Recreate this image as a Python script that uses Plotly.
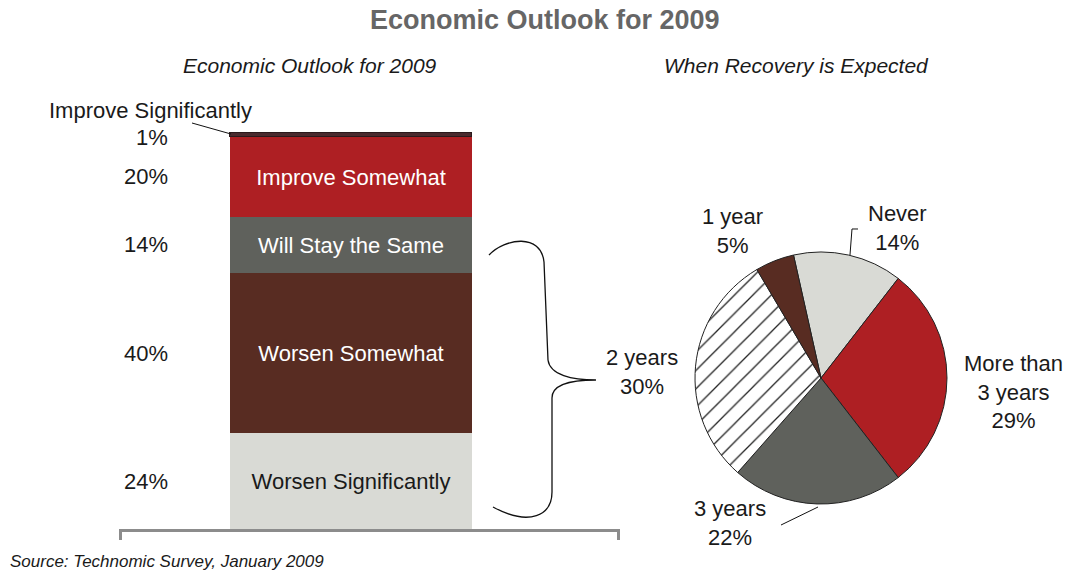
import plotly.graph_objects as go

W, H = 1076, 575

# ---------------- data ----------------
outlook_labels = ["Worsen Significantly", "Worsen Somewhat", "Will Stay the Same",
                  "Improve Somewhat", "Improve Significantly"]
outlook_values = [24, 40, 14, 20, 1]

recovery_labels = ["Never", "More than<br>3 years", "3 years", "2 years", "1 year"]
recovery_values = [14, 29, 22, 30, 5]

# ---------------- styles ----------------
FONT = "Liberation Sans, Arial, sans-serif"
TXT = "#1a1a1a"
LBL = 22
bar_colors = ["#d9dad5", "#582c22", "#5f615c", "#ae1f23", "#4a2a2e"]
bar_text_colors = [TXT, "white", "white", "white", "white"]
pie_colors = ["#d9dad5", "#ae1f23", "#5f615c", "white", "#582c22"]
pie_patterns = ["", "", "", "/", ""]


def px(x, y):
    return x / W, 1 - y / H


fig = go.Figure()

# stacked bar
for lab, val, col, tc in zip(outlook_labels, outlook_values, bar_colors, bar_text_colors):
    small = val < 5
    fig.add_trace(go.Bar(
        x=[0], y=[val], width=[1], name=lab,
        marker=dict(color=col, line=dict(color="#2a1a1c" if small else col, width=1 if small else 0)),
        text=["" if small else lab], textposition="inside", insidetextanchor="middle",
        textangle=0, constraintext="none",
        textfont=dict(color=tc, size=LBL, family=FONT),
        hoverinfo="skip", xaxis="x", yaxis="y",
    ))

# pie
cx, cy, r = 821, 378, 126
fig.add_trace(go.Pie(
    values=recovery_values, labels=recovery_labels, sort=False,
    direction="clockwise", rotation=-12.6,
    marker=dict(colors=pie_colors, line=dict(color="#222222", width=1),
                pattern=dict(shape=pie_patterns, fgcolor="#222222", size=13, solidity=0.1)),
    textinfo="none", hoverinfo="skip", showlegend=False,
    domain=dict(x=[(cx - r) / W, (cx + r) / W], y=[1 - (cy + r) / H, 1 - (cy - r) / H]),
))

annotations = []


def ann(x, y, text, size=LBL, color=TXT, xanchor="center", italic=False, bold=False):
    ax, ay = px(x, y)
    style = "italic" if italic else "normal"
    weight = "bold" if bold else "normal"
    annotations.append(dict(
        x=ax, y=ay, xref="paper", yref="paper", text=text, showarrow=False,
        xanchor=xanchor, yanchor="middle",
        font=dict(family=FONT, size=size, color=color, style=style, weight=weight),
    ))


ann(545, 20, "Economic Outlook for 2009", size=27, color="#666666", bold=True)
ann(310, 65, "Economic Outlook for 2009", size=21, italic=True)
ann(796, 65, "When Recovery is Expected", size=21, italic=True)
ann(8, 561, "Source: Technomic Survey, January 2009", size=17, xanchor="left", italic=True)

# percent labels on the left of the bar
cum = 0
for lab, val in zip(outlook_labels, outlook_values):
    mid = cum + val / 2
    cum += val
    annotations.append(dict(
        x=170 / W, y=mid, xref="paper", yref="y", text=f"{val}%", showarrow=False,
        xanchor="right", yanchor="middle", yshift=-3 if val < 5 else 0,
        font=dict(family=FONT, size=LBL, color=TXT),
    ))
ann(47, 110, outlook_labels[-1], xanchor="left")

# pie labels
pie_label_pos = {
    "Never": (897, 228),
    "More than<br>3 years": (1013, 392),
    "3 years": (730, 523),
    "2 years": (642, 372),
    "1 year": (733, 231),
}
for lab, val in zip(recovery_labels, recovery_values):
    x, y = pie_label_pos[lab]
    ann(x, y, f"{lab}<br>{val}%")

# ---------------- shapes ----------------
def path_px(pts_cmds):
    out = []
    for tok in pts_cmds:
        if isinstance(tok, str):
            out.append(tok)
        else:
            x, y = px(*tok)
            out.append(f"{x:.5f},{y:.5f}")
    return " ".join(out)


brace = path_px([
    "M", (489, 255), "C", (505, 238), (541, 233), (544, 262),
    "L", (548, 360), "C", (550, 375), (572, 380), (596, 380),
    "C", (572, 380), (552, 384), (552, 398),
    "L", (552, 492), "C", (552, 515), (530, 527), (493, 507),
])
shapes = [
    dict(type="path", path=brace, xref="paper", yref="paper",
         line=dict(color="#111111", width=1.3)),
    # leader for Improve Significantly
    dict(type="line", xref="paper", yref="paper",
         x0=px(192, 123)[0], y0=px(192, 123)[1], x1=px(231, 134)[0], y1=px(231, 134)[1],
         line=dict(color="#111111", width=1)),
    # leader for Never
    dict(type="path", xref="paper", yref="paper",
         path=path_px(["M", (858, 229), "L", (852, 229), "L", (850, 255)]),
         line=dict(color="#111111", width=1)),
    # leader for 3 years
    dict(type="line", xref="paper", yref="paper",
         x0=px(781, 525)[0], y0=px(781, 525)[1], x1=px(818, 507)[0], y1=px(818, 507)[1],
         line=dict(color="#111111", width=1)),
]

fig.update_layout(
    width=W, height=H, margin=dict(l=0, r=0, t=0, b=0),
    paper_bgcolor="white", plot_bgcolor="white",
    barmode="stack", bargap=0, showlegend=False,
    xaxis=dict(domain=[119 / W, 620 / W], range=[-0.9587, 1.1116],
               showgrid=False, zeroline=False, showline=True, linecolor="#8c8c8c", linewidth=3,
               ticks="outside", tickvals=[-0.952, 1.105], ticklen=8, tickwidth=3,
               tickcolor="#8c8c8c", showticklabels=False, fixedrange=True),
    yaxis=dict(domain=[1 - 529 / H, 1 - 129 / H], range=[0, 100], visible=False, fixedrange=True),
    annotations=annotations, shapes=shapes,
)

fig.write_html("out.html")
